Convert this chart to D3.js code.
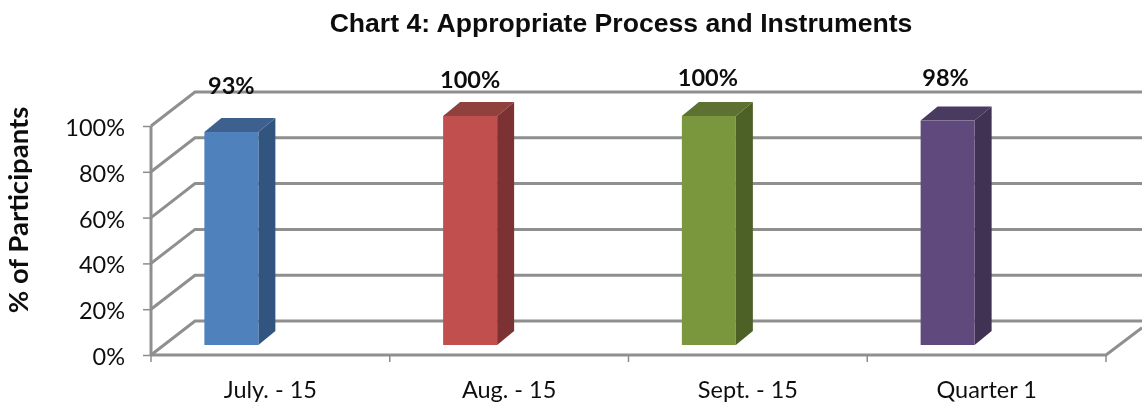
<!DOCTYPE html>
<meta charset="utf-8">
<style>
body { margin: 0; background: white; }
text { fill: #111; }
.tick text { font-family: Lato, sans-serif; font-size: 23.5px; }
.axis path, .axis line { stroke: #8c8c8c; stroke-width: 1.5px; }
</style>
<script src="https://d3js.org/d3.v7.min.js"></script>
<body>
<script>
const categories = ['July. - 15', 'Aug. - 15', 'Sept. - 15', 'Quarter 1'];
const values = [93, 100, 100, 98];
const yTicks = [0, 20, 40, 60, 80, 100];
const frontColors = ['#4f81bd', '#c0504d', '#7a973c', '#604a7b'];
const topColors = ['#3c618e', '#90403c', '#5b7130', '#4a3a60'];
const sideColors = ['#335580', '#7c3230', '#4e6128', '#3f3152'];

const width = 1142, height = 403;
const left = 151, right = 1106, y0 = 355, y100 = 126;
// oblique depth of the walls and of the bars
const wallDx = 44, wallDy = -34, barDx = 17, barDy = -14;
const barLift = 10, barShift = -39, barWidth = 54;
// hand placed data labels
const labelNudge = [[0, 94], [0, 88], [-1, 86], [-2, 86]];

const svg = d3.select('body').append('svg')
  .attr('width', width).attr('height', height)
  .style('display', 'block');

// the reference is a slightly soft screenshot
svg.append('filter')
  .attr('id', 'soft')
  .attr('x', 0).attr('y', 0).attr('width', 1).attr('height', 1)
  .attr('filterUnits', 'objectBoundingBox')
  .append('feGaussianBlur').attr('stdDeviation', 0.55);

const chart = svg.append('g').attr('filter', 'url(#soft)');

chart.append('rect')
  .attr('width', width).attr('height', height)
  .attr('fill', 'white');

const x = d3.scaleBand().domain(categories).range([left, right]);
const y = d3.scaleLinear().domain([0, 100]).range([y0, y100]);

// walls and gridlines
const grid = chart.append('g')
  .attr('fill', 'none')
  .attr('stroke', '#8f8f8f')
  .attr('stroke-width', 3);

grid.selectAll('path')
  .data(yTicks)
  .enter().append('path')
    .attr('d', d => `M${left},${y(d)} L${left + wallDx},${y(d) + wallDy} L${width},${y(d) + wallDy}`);

grid.append('path')
  .attr('d', `M${left},${y0} L${right},${y0} L${width},${y0 + wallDy * 0.8}`);

grid.append('path')
  .attr('d', `M${left},${y0} L${left},${y100}`);

// axes, for tick marks and labels
chart.append('g')
  .attr('class', 'axis')
  .attr('transform', `translate(${left},0)`)
  .call(d3.axisLeft(y).tickValues(yTicks).tickSize(8).tickPadding(18).tickFormat(d => d + '%'))
  .call(g => g.select('.domain').remove())
  .call(g => g.selectAll('.tick text').attr('dy', '0.40em').attr('x', -26));

chart.append('g')
  .attr('class', 'axis')
  .attr('transform', `translate(0,${y0})`)
  .call(d3.axisBottom(x).tickSize(0).tickPadding(26))
  .call(g => g.select('.domain').remove());

chart.append('g')
  .attr('class', 'axis')
  .selectAll('line')
  .data(categories.map(c => x(c)).concat(right))
  .enter().append('line')
    .attr('x1', d => d).attr('x2', d => d)
    .attr('y1', y0).attr('y2', y0 + 7);

// bars
const bars = chart.selectAll('.bar')
  .data(categories)
  .enter().append('g')
    .attr('class', 'bar');

const barX = c => x(c) + x.bandwidth() / 2 + barShift - barWidth / 2;
const barTop = (c, i) => y(values[i]) - barLift;
const barBase = y0 - barLift;

bars.append('path')
  .attr('fill', (c, i) => sideColors[i])
  .attr('d', (c, i) => {
    const bx = barX(c) + barWidth, t = barTop(c, i);
    return `M${bx},${t} l${barDx},${barDy} L${bx + barDx},${barBase + barDy} L${bx},${barBase} Z`;
  });

bars.append('path')
  .attr('fill', (c, i) => topColors[i])
  .attr('d', (c, i) => {
    const bx = barX(c), t = barTop(c, i);
    return `M${bx},${t} l${barDx},${barDy} h${barWidth} l${-barDx},${-barDy} Z`;
  });

bars.append('rect')
  .attr('fill', (c, i) => frontColors[i])
  .attr('x', barX)
  .attr('y', barTop)
  .attr('width', barWidth)
  .attr('height', (c, i) => barBase - barTop(c, i));

// data labels
chart.selectAll('.value')
  .data(values)
  .enter().append('text')
    .attr('class', 'value')
    .attr('x', (d, i) => barX(categories[i]) + barWidth / 2 + labelNudge[i][0])
    .attr('y', (d, i) => labelNudge[i][1])
    .attr('text-anchor', 'middle')
    .style('font-family', 'Lato, sans-serif')
    .style('font-weight', 'bold')
    .style('font-size', '23.5px')
    .text(d => d + '%');

// titles
chart.append('text')
  .attr('x', 621).attr('y', 32)
  .attr('text-anchor', 'middle')
  .style('font-family', '"Liberation Sans", sans-serif')
  .style('font-weight', 'bold')
  .style('font-size', '26.6px')
  .text('Chart 4: Appropriate Process and Instruments');

chart.append('text')
  .attr('transform', 'translate(28,210) rotate(-90)')
  .attr('text-anchor', 'middle')
  .style('font-family', 'Lato, sans-serif')
  .style('font-weight', 'bold')
  .style('font-size', '27.5px')
  .text('% of Participants');
</script>
</body>
</html>
